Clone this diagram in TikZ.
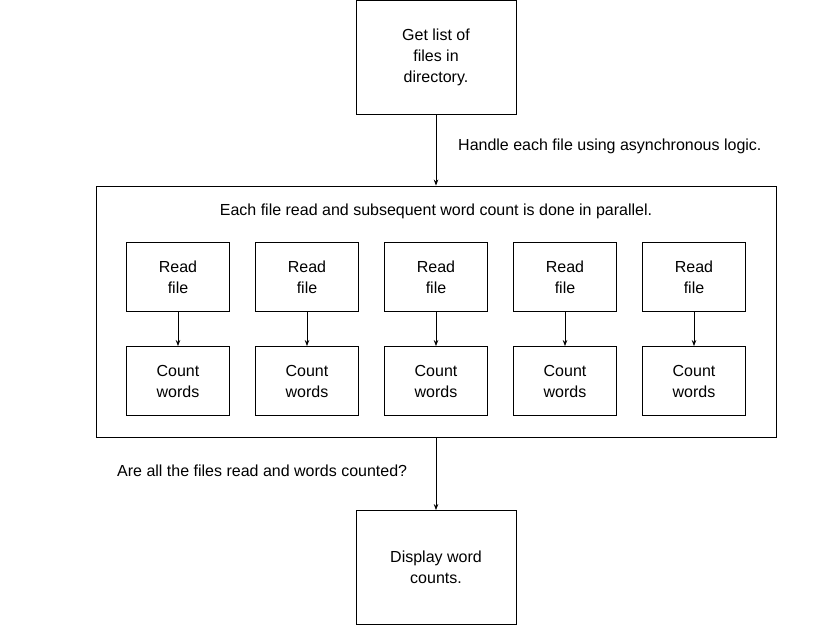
\documentclass[tikz,border=0pt]{standalone}
\usepackage{fontspec}
\setmainfont{Liberation Sans}
\usetikzlibrary{arrows.meta}
\begin{document}
\begin{tikzpicture}[x=1pt,y=-1pt,
  box/.style={draw, line width=0.9pt, minimum width=103pt, minimum height=69pt, inner sep=0pt, align=center, font=\fontsize{16}{21}\selectfont},
  bigbox/.style={draw, line width=0.9pt, minimum width=160pt, minimum height=114pt, inner sep=0pt, align=center, font=\fontsize{16}{21}\selectfont},
  lbl/.style={font=\fontsize{16}{21}\selectfont, inner sep=0pt},
  arr/.style={line width=0.7pt, -{Stealth[length=6pt,width=4.5pt]}}]
\useasboundingbox (0,0) rectangle (817,627);
\node[bigbox] (top) at (436,57.5) {Get list of\\files in\\directory.};
\node[draw, line width=0.9pt, minimum width=680pt, minimum height=251pt, inner sep=0pt] (par) at (436,311.5) {};
\node[lbl] (ptitle) at (436,211) {Each file read and subsequent word count is done in parallel.};
\foreach \i/\x in {1/178,2/307,3/436,4/565,5/694}{
  \node[box] (r\i) at (\x,277) {Read\\file};
  \node[box] (c\i) at (\x,381) {Count\\words};
  \draw[arr] (r\i) -- (c\i);
}
\node[bigbox] (disp) at (436,567.5) {Display word\\counts.};
\draw[arr] (top) -- (par);
\draw[arr] (par) -- (disp);
\node[lbl, anchor=west] (h) at (458,146) {Handle each file using asynchronous logic.};
\node[lbl, anchor=west] (q) at (117,471) {Are all the files read and words counted?};
\end{tikzpicture}
\end{document}
